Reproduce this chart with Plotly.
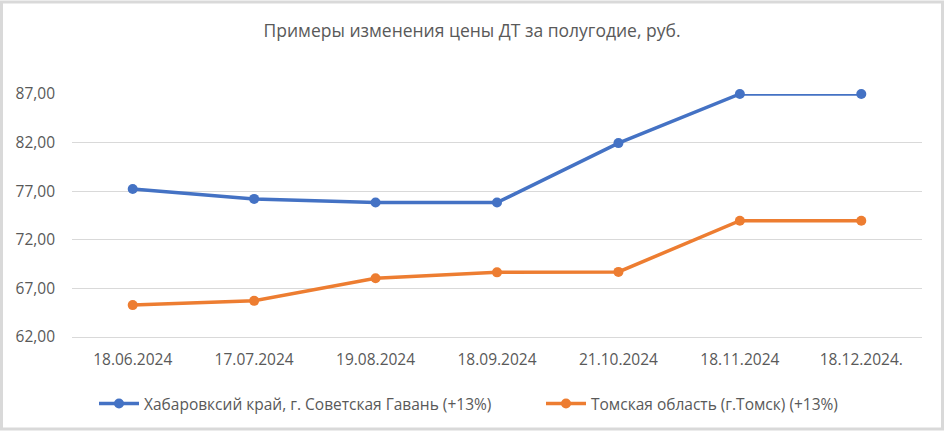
import plotly.graph_objects as go

dates = ["18.06.2024", "17.07.2024", "19.08.2024", "18.09.2024", "21.10.2024", "18.11.2024", "18.12.2024."]
khabarovsk = [77.23, 76.21, 75.83, 75.83, 81.95, 87.00, 87.00]
tomsk = [65.28, 65.72, 68.05, 68.65, 68.70, 73.96, 73.96]
y_ticks = [62, 67, 72, 77, 82, 87]
y_tick_text = ["62,00", "67,00", "72,00", "77,00", "82,00", "87,00"]

name_k = "Хабаровксий край, г. Советская Гавань (+13%)"
name_t = "Томская область (г.Томск) (+13%)"

font_family = "Open Sans, Noto Sans, sans-serif"
text_color = "#595959"

fig = go.Figure()
fig.add_trace(go.Scatter(x=dates, y=khabarovsk, name=name_k, mode="lines+markers",
                         line=dict(color="#4472C4", width=3.5), cliponaxis=False,
                         marker=dict(color="#4472C4", size=10), legend="legend"))
fig.add_trace(go.Scatter(x=dates, y=tomsk, name=name_t, mode="lines+markers",
                         line=dict(color="#ED7D31", width=3.5), cliponaxis=False,
                         marker=dict(color="#ED7D31", size=10), legend="legend2"))

W, H = 944, 432
L, R, T, B = 72, 22, 94, 94
pw, ph = W - L - R, H - T - B

leg_common = dict(orientation="h", xanchor="left", y=-(404 - 338) / ph, yanchor="middle",
                  font=dict(size=15.5, color=text_color), itemwidth=40,
                  bgcolor="rgba(0,0,0,0)")

fig.update_layout(
    width=W, height=H,
    margin=dict(l=L, r=R, t=T, b=B),
    paper_bgcolor="white", plot_bgcolor="white",
    font=dict(family=font_family, color=text_color, size=13),
    title=dict(text="Примеры изменения цены ДТ за полугодие, руб.",
               x=0.5, xanchor="center", y=1 - 31 / H, yanchor="middle",
               font=dict(size=17.5, color=text_color)),
    xaxis=dict(type="category", showgrid=False, zeroline=False, showline=True,
               linecolor="#D9D9D9", linewidth=1,
               ticks="", tickfont=dict(size=15.5, color=text_color),
               ticklabelstandoff=8,
               range=[-0.5, len(dates) - 0.5]),
    yaxis=dict(range=[62, 87], tickvals=y_ticks, ticktext=y_tick_text,
               showgrid=True, gridcolor="#D9D9D9", gridwidth=1, zeroline=False,
               showline=False, ticks="", tickfont=dict(size=15.5, color=text_color),
               ticklabelstandoff=16),
    legend=dict(x=(100 - 6 - L) / pw, **leg_common),
    legend2=dict(x=(547 - 6 - L) / pw, **leg_common),
    showlegend=True,
    shapes=[dict(type="rect", xref="paper", yref="paper",
                 x0=(1.5 - L) / pw, x1=(W - 1.5 - L) / pw,
                 y0=-(H - 1.5 - T - ph) / ph, y1=1 + (T - 1.5) / ph,
                 line=dict(color="#D9D9D9", width=3), layer="below")],
)

fig.write_html("out.html")
